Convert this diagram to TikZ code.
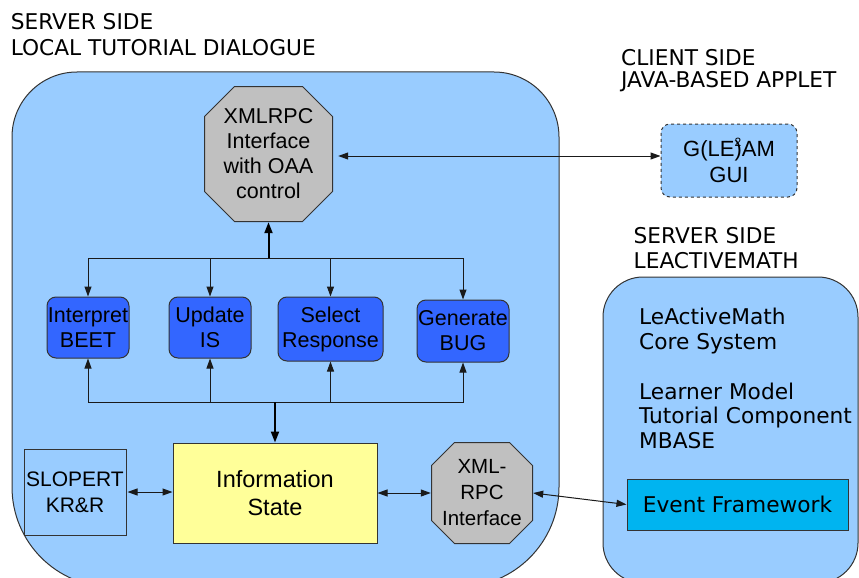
\documentclass[tikz,border=0pt]{standalone}
\usepackage{fontspec}
\setmainfont{Liberation Sans}
\newfontfamily\dv{DejaVu Sans}
\usetikzlibrary{arrows.meta,calc}
\definecolor{bgC}{HTML}{99CCFF}
\definecolor{blueC}{HTML}{3366FF}
\definecolor{octC}{HTML}{C0C0C0}
\definecolor{yelC}{HTML}{FFFF99}
\definecolor{evC}{HTML}{00B4F0}
\definecolor{lineC}{HTML}{333333}
\definecolor{conC}{HTML}{1A1A1A}
\begin{document}
\begin{tikzpicture}[x=1pt,y=-1pt,
  container/.style={draw=lineC,line width=1pt,fill=bgC},
  boxtext/.style={align=center,inner sep=0pt,font=\fontsize{21.5}{25}\selectfont},
  octa/.style={boxtext,path picture={
    \coordinate (oA) at ([shift={(0.5pt,-0.5pt)}]path picture bounding box.north west);
    \coordinate (oB) at ([shift={(-0.5pt,0.5pt)}]path picture bounding box.south east);
    \draw[draw=lineC,fill=octC,line width=1pt]
      ($(oA)+(#1,0pt)$) -- ($(oA -| oB)+(-#1,0pt)$) -- ($(oA -| oB)+(0pt,-#1)$) --
      ($(oB)+(0pt,#1)$) -- ($(oB)+(-#1,0pt)$) -- ($(oA |- oB)+(#1,0pt)$) --
      ($(oA |- oB)+(0pt,#1)$) -- ($(oA)+(0pt,-#1)$) -- cycle;}},
  bluebox/.style={boxtext,draw=lineC,line width=1pt,fill=blueC,rounded corners=9pt},
  lab/.style={anchor=north west,align=left,inner sep=0pt},
  con/.style={draw=conC,line width=1pt},
  arr/.style={con,-{Triangle[length=10pt,width=7pt]}},
  dbl/.style={con,{Triangle[length=10pt,width=7pt]}-{Triangle[length=10pt,width=7pt]}},
  trunk/.style={draw=black,line width=2pt,-{Triangle[length=11pt,width=8pt]}}
]
\useasboundingbox (0,0) rectangle (859,578);

% containers
\path[container] (285,72) [rounded corners=65pt] -- (12,72) -- (12,330)
  [rounded corners=100pt] -- (12,587) -- (559,587) -- (559,330)
  [rounded corners=65pt] -- (559,72) -- cycle;
\draw[container,rounded corners=40pt] (603,277) rectangle (858,583);

% labels
\node[lab,font=\dv\fontsize{21.7}{26}\selectfont] (lab1) at (10.6,13.3) {SERVER SIDE\\LOCAL TUTORIAL DIALOGUE};
\node[lab,font=\dv\fontsize{21.7}{22.5}\selectfont] (lab2) at (621,48.8) {CLIENT SIDE\\JAVA-BASED APPLET};
\node[lab,font=\dv\fontsize{21.7}{24.5}\selectfont] (lab3) at (633.5,227.3) {SERVER SIDE\\LEACTIVEMATH};
\node[lab,font=\dv\fontsize{21.7}{25}\selectfont] (core) at (639,307.5) {LeActiveMath\\Core System};
\node[lab,font=\dv\fontsize{21.7}{24.5}\selectfont] (mods) at (639,382.5) {Learner Model\\Tutorial Component\\MBASE};

% nodes
\node[octa=30pt,minimum width=129pt,minimum height=136pt] (oaa) at (268.5,154) {XMLRPC\\Interface\\with OAA\\control};
\node[boxtext,draw=lineC,line width=1pt,dashed,fill=bgC,rounded corners=9pt,
      minimum width=136pt,minimum height=73pt,font=\fontsize{22}{26}\selectfont] (gui) at (729,160.5)
      {G(LE\rlap{\raisebox{10pt}{\fontsize{12}{12}\selectfont 2}})AM\\GUI};

\node[bluebox,minimum width=82pt,minimum height=61pt] (interp) at (88,327.5) {Interpret\\BEET};
\node[bluebox,minimum width=82pt,minimum height=61pt] (update) at (210,327.5) {Update\\IS};
\node[bluebox,minimum width=105pt,minimum height=64pt] (select) at (330.5,329) {Select\\Response};
\node[bluebox,minimum width=92pt,minimum height=62pt] (gen) at (463,331) {Generate\\BUG};

\node[boxtext,draw=lineC,line width=1pt,fill=yelC,minimum width=204pt,minimum height=100pt,
      font=\fontsize{23.5}{28}\selectfont] (info) at (275,493) {Information\\State};
\node[boxtext,draw=lineC,line width=1pt,fill=bgC,minimum width=102pt,minimum height=86pt,
      font=\fontsize{21}{26}\selectfont] (slop) at (75,492) {SLOPERT\\KR\&R};
\node[octa=23pt,minimum width=102pt,minimum height=102pt,font=\fontsize{20.5}{26}\selectfont] (xrpc) at (482,493) {XML-\\RPC\\Interface};
\node[draw=lineC,line width=1pt,fill=evC,minimum width=221pt,minimum height=51pt,inner sep=0pt,
      font=\dv\fontsize{21.7}{25}\selectfont] (event) at (737.5,504.5) {Event Framework};

% connectors
\coordinate (ylink) at (0,156);
\draw[dbl,shorten <=5pt] (oaa.east |- ylink) -- (gui.west |- ylink);

\coordinate (h1y) at (0,258);
\coordinate (h1) at (oaa.south |- h1y);
\draw[arr] (h1) -| (interp.north);
\draw[arr] (h1) -| (update.north);
\draw[arr] (h1) -| (select.north);
\draw[arr] (h1) -| (gen.north);
\draw[trunk] (h1) -- (oaa.south);

\coordinate (h2y) at (0,402);
\coordinate (h2) at (info.north |- h2y);
\draw[arr] (h2) -| (interp.south);
\draw[arr] (h2) -| (update.south);
\draw[arr] (h2) -| (select.south);
\draw[arr] (h2) -| (gen.south);
\draw[trunk] (h2) -- (info.north);

\draw[dbl,shorten <=1pt] (slop.east) -- (slop.east -| info.west);
\draw[dbl] (info.east) -- (info.east -| xrpc.west);
\draw[dbl] (xrpc.east) -- (event.west);
\end{tikzpicture}
\end{document}
